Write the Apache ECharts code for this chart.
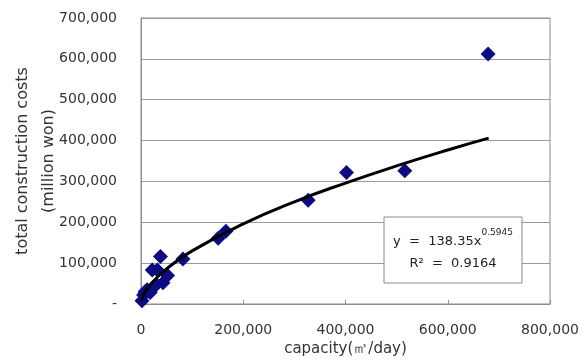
<!DOCTYPE html>
<html>
<head>
<meta charset="utf-8">
<script src="https://cdn.jsdelivr.net/npm/echarts@6/dist/echarts.min.js"></script>
<style>
  html, body { margin: 0; padding: 0; background: #fff; }
  #main { width: 584px; height: 361px; }
</style>
</head>
<body>
<div id="main"></div>
<script>
// observed plants: capacity (m3/day) vs total construction costs (million won)
var capacity = [2000, 5000, 8000, 12000, 18000, 25000, 30000, 43000, 22000, 32000, 38000, 52000, 82000, 151000, 166000, 327000, 402000, 516000, 679000];
var cost     = [8000, 22000, 30000, 35000, 28000, 42000, 48000, 52000, 83000, 83000, 116000, 70000, 110000, 161000, 178000, 254000, 322000, 326000, 612000];

// power trendline
var trendX = [1000, 5000, 20000, 50000, 100000, 200000, 300000, 400000, 500000, 600000, 680000];
var trendY = [8400, 21900, 49900, 86000, 130000, 196000, 250000, 296000, 338000, 377000, 406000];

var xTicks = [0, 200000, 400000, 600000, 800000];
var yTicks = [0, 100000, 200000, 300000, 400000, 500000, 600000, 700000];

var font = 'DejaVu Sans';

function fmt(v) {
    if (v === 0) return '-';
    return v.toString().replace(/\B(?=(\d{3})+(?!\d))/g, ',');
}

var points = capacity.map(function (c, i) { return [c, cost[i]]; });
var trend = trendX.map(function (c, i) { return [c, trendY[i]]; });

var chart = echarts.init(document.getElementById('main'));

var option = {
    backgroundColor: '#fff',
    animation: false,
    grid: {
        left: 141, right: 34, top: 18, bottom: 57,
        outerBoundsMode: 'none',
        containLabel: false,
        show: true, borderColor: '#8c8c8c', borderWidth: 1
    },
    xAxis: {
        type: 'value',
        min: xTicks[0], max: xTicks[xTicks.length - 1], interval: 200000,
        name: 'capacity(㎥/day)',
        nameLocation: 'middle',
        nameGap: 38,
        nameMoveOverlap: false,
        nameTextStyle: { fontFamily: font, fontSize: 15, color: '#333' },
        axisLine: { show: true, lineStyle: { color: '#8c8c8c' } },
        axisTick: { show: true, inside: true, length: 4, lineStyle: { color: '#8c8c8c' } },
        splitLine: { show: false },
        axisLabel: {
            margin: 19, fontFamily: font, fontSize: 14, color: '#333',
            formatter: function (v) { return v === 0 ? '0' : fmt(v); }
        }
    },
    yAxis: {
        type: 'value',
        min: yTicks[0], max: yTicks[yTicks.length - 1], interval: 100000,
        name: 'total construction costs\n(million won)',
        nameLocation: 'middle',
        nameRotate: 90,
        nameGap: 79,
        nameMoveOverlap: false,
        nameTextStyle: { fontFamily: font, fontSize: 16, color: '#333', lineHeight: 26, align: 'center' },
        axisLine: { show: true, lineStyle: { color: '#8c8c8c' } },
        axisTick: { show: false },
        splitLine: { show: true, lineStyle: { color: '#9a9a9a', width: 1 } },
        axisLabel: {
            margin: 24, fontFamily: font, fontSize: 14, color: '#333',
            formatter: fmt
        }
    },
    series: [
        {
            name: 'plants',
            type: 'scatter',
            data: points,
            symbol: 'diamond',
            symbolSize: 15,
            itemStyle: { color: '#0c0c80', opacity: 1 },
            z: 2
        },
        {
            name: 'trend',
            type: 'line',
            data: trend,
            smooth: true,
            showSymbol: false,
            lineStyle: { color: '#000', width: 3 },
            z: 3
        }
    ],
    graphic: [
        {
            type: 'rect',
            shape: { x: 384, y: 217, width: 138, height: 66 },
            style: { fill: '#fff', stroke: '#8c8c8c', lineWidth: 1 },
            z: 10
        },
        {
            type: 'text',
            x: 453, y: 238,
            style: {
                text: '{b|y  =  138.35x}{s|0.5945}',
                align: 'center', verticalAlign: 'middle',
                rich: {
                    b: { fontFamily: font, fontSize: 13, fill: '#222', lineHeight: 20, verticalAlign: 'bottom' },
                    s: { fontFamily: font, fontSize: 9, fill: '#222', lineHeight: 20, verticalAlign: 'top' }
                }
            },
            z: 11
        },
        {
            type: 'text',
            x: 453, y: 264,
            style: {
                text: 'R²  =  0.9164',
                align: 'center', verticalAlign: 'middle',
                fontFamily: font, fontSize: 13, fill: '#222'
            },
            z: 11
        }
    ]
};

chart.setOption(option);
</script>
</body>
</html>
